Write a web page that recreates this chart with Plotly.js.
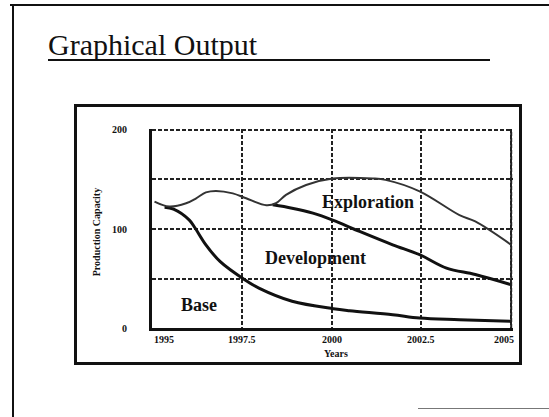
<!DOCTYPE html>
<html>
<head>
<meta charset="utf-8">
<script src="https://cdn.plot.ly/plotly-3.0.1.min.js"></script>
<style>
  html,body{margin:0;padding:0;background:#fff;}
  #wrap{position:relative;width:549px;height:417px;overflow:hidden;background:#fff;}
  #chart{position:absolute;left:0;top:0;width:549px;height:417px;}
  .ln{position:absolute;background:#111;}
</style>
</head>
<body>
<div id="wrap">
  <div class="ln" style="left:10px;top:4px;width:539px;height:2px;"></div>
  <div class="ln" style="left:12px;top:4px;width:2px;height:413px;"></div>
  <div class="ln" style="left:418px;top:408px;width:131px;height:1px;background:#777;"></div>
  <div class="ln" style="left:48px;top:59px;width:442px;height:2px;"></div>
  <div class="ln" style="left:74px;top:104px;width:448px;height:3px;"></div>
  <div class="ln" style="left:74px;top:104px;width:3px;height:261px;"></div>
  <div class="ln" style="left:519px;top:104px;width:3px;height:261px;"></div>
  <div class="ln" style="left:74px;top:362px;width:448px;height:3px;"></div>
  <div id="chart"></div>
</div>
<script>
// Years axis
const xTickVals = [1995, 1997.5, 2000, 2002.5, 2005];
const xTickText = ["1995", "1997.5", "2000", "2002.5", "2005"];
const yTickVals = [0, 50, 100, 150, 200];
const yTickText = ["0", "", "100", "", "200"];

// Base production (bottom curve)
const baseYears = [1995.35, 1995.6, 1996.04, 1996.2, 1996.5, 1996.9, 1997.57, 1997.99, 1998.9, 2000.05, 2000.5, 2001.7, 2002.45, 2003.56, 2005];
const baseVals  = [122, 120, 109, 101, 84, 67, 49, 40, 27, 19.5, 17.5, 13.4, 10, 8.4, 6.7];

// Base + Development (middle curve)
const devYears = [1998.36, 1998.9, 1999.48, 2000.03, 2000.78, 2001.7, 2002.45, 2003.2, 2004.0, 2005];
const devVals  = [124.4, 121, 116, 109, 97.5, 84, 74, 60.5, 54, 43.7];

// Base + Development + Exploration (top curve)
const expYears = [1995.07, 1995.48, 1995.95, 1996.23, 1996.5, 1996.78, 1997.25, 1997.62, 1998.18, 1998.45, 1998.73, 1999.29, 2000.03, 2001.15, 2001.5, 2002.45, 2003.56, 2004.0, 2005];
const expVals  = [127.7, 122.7, 126, 131, 137, 138.5, 136, 131, 124, 126, 134.5, 144.5, 151, 151, 149.6, 138, 114, 107.6, 84];

// Area labels
const labelText = ["Exploration", "Development", "Base"];
const labelX = [2001.02, 1999.54, 1996.31];
const labelY = [127, 70.7, 23.2];

const serif = "Times New Roman, Liberation Serif, DejaVu Serif, serif";
const gridDash = "4px,2px";

const traces = [
  {x: baseYears, y: baseVals, mode: "lines", line: {color: "#111", width: 3, shape: "spline"}, hoverinfo: "skip"},
  {x: devYears, y: devVals, mode: "lines", line: {color: "#111", width: 3, shape: "spline"}, hoverinfo: "skip"},
  {x: expYears, y: expVals, mode: "lines", line: {color: "#333", width: 2, shape: "spline"}, hoverinfo: "skip"}
];

const annotations = labelText.map((t, i) => ({
  x: labelX[i], y: labelY[i], xref: "x", yref: "y", text: t, showarrow: false,
  font: {family: serif, size: 18, color: "#111", weight: "bold"}
}));
xTickVals.forEach((v, i) => {
  const last = i === xTickVals.length - 1;
  annotations.push({
    x: v, y: 0, xref: "x", yref: "y", text: xTickText[i], showarrow: false,
    xanchor: i === 0 ? "left" : (last ? "right" : "center"),
    xshift: last ? 5 : 0, yanchor: "middle", yshift: -11,
    font: {family: serif, size: 10, color: "#111", weight: "bold"}
  });
});
annotations.push({
  xref: "paper", yref: "paper", x: -0.153, y: 0.48, text: "Production Capacity",
  textangle: -90, showarrow: false, xanchor: "center", yanchor: "middle",
  font: {family: serif, size: 10, color: "#111", weight: "bold"}
});
annotations.push({
  xref: "paper", yref: "paper", x: 0.51, y: -0.127, text: "Years",
  showarrow: false, xanchor: "center", yanchor: "middle",
  font: {family: serif, size: 10, color: "#111", weight: "bold"}
});

// gridlines at the far edges of the range (Plotly omits them at range ends)
const xMax = xTickVals[xTickVals.length - 1];
const yMax = yTickVals[yTickVals.length - 1];
const shapes = [
  {type: "line", xref: "x", yref: "y", x0: xMax, x1: xMax, y0: 0, y1: yMax, line: {color: "#222", width: 2, dash: gridDash}},
  {type: "line", xref: "x", yref: "y", x0: xTickVals[0], x1: xMax, y0: yMax, y1: yMax, line: {color: "#222", width: 2, dash: gridDash}}
];

const layout = {
  width: 549, height: 417,
  margin: {l: 152, r: 36, t: 129, b: 89, pad: 0},
  paper_bgcolor: "rgba(0,0,0,0)",
  plot_bgcolor: "rgba(0,0,0,0)",
  showlegend: false,
  title: {
    text: "Graphical Output", xref: "container", yref: "container",
    x: 48 / 549, xanchor: "left", y: 1 - 44 / 417, yanchor: "middle",
    font: {family: serif, size: 30, color: "#111", weight: "normal"}
  },
  xaxis: {
    range: [1995, 2005.05], tickvals: xTickVals, ticktext: xTickText, showticklabels: false,
    showgrid: true, gridcolor: "#222", gridwidth: 2, griddash: gridDash,
    showline: true, linecolor: "#111", linewidth: 3,
    zeroline: false, ticks: "",
    fixedrange: true
  },
  yaxis: {
    range: [0, 201], tickvals: yTickVals, ticktext: yTickText,
    showgrid: true, gridcolor: "#222", gridwidth: 2, griddash: gridDash,
    showline: true, linecolor: "#111", linewidth: 3,
    zeroline: false, ticks: "outside", ticklen: 20, tickcolor: "rgba(0,0,0,0)",
    tickfont: {family: serif, size: 10, color: "#111", weight: "bold"},
    fixedrange: true
  },
  shapes: shapes,
  annotations: annotations
};

Plotly.newPlot("chart", traces, layout, {staticPlot: true, displayModeBar: false});
</script>
</body>
</html>
